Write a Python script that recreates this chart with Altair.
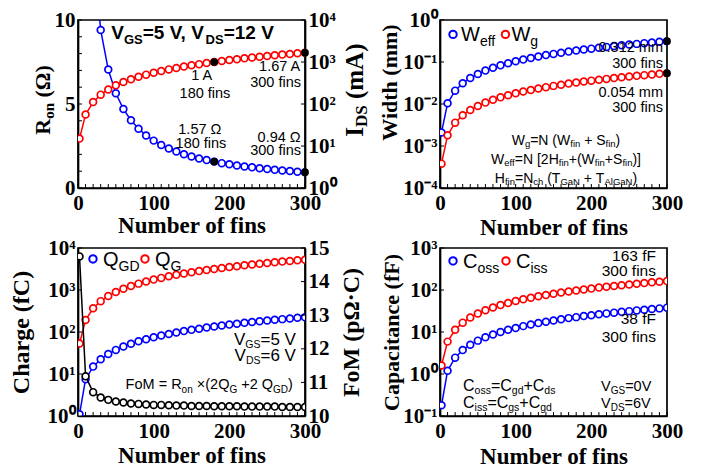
import altair as alt
import pandas as pd

# ---------------- data ----------------
fins = [2, 10, 20, 30, 40, 50, 60, 70, 80, 90, 100, 110, 120, 130, 140, 150,
        160, 170, 180, 190, 200, 210, 220, 230, 240, 250, 260, 270, 280, 290, 300]
ron_ohm = [141, 28.2, 14.1, 9.4, 7.05, 5.64, 4.70, 4.03, 3.53, 3.13, 2.82, 2.56, 2.35, 2.17,
           2.01, 1.88, 1.76, 1.66, 1.57, 1.48, 1.41, 1.34, 1.28, 1.23, 1.18, 1.13, 1.08,
           1.04, 1.01, 0.97, 0.94]
ids_ma = [15, 56, 111, 167, 222, 278, 333, 389, 444, 500, 556, 611, 667, 722, 778, 833,
          889, 944, 1000, 1056, 1111, 1167, 1222, 1278, 1333, 1389, 1444, 1500, 1556, 1611, 1670]
weff_mm = [0.0021, 0.0104, 0.0208, 0.0312, 0.0416, 0.052, 0.0624, 0.0728, 0.0832, 0.0936,
           0.104, 0.114, 0.125, 0.135, 0.146, 0.156, 0.166, 0.177, 0.187, 0.198, 0.208,
           0.218, 0.229, 0.239, 0.250, 0.260, 0.270, 0.281, 0.291, 0.302, 0.312]
wg_mm = [0.00038, 0.0018, 0.0036, 0.0054, 0.0072, 0.0090, 0.0108, 0.0126, 0.0144, 0.0162,
         0.0180, 0.0198, 0.0216, 0.0234, 0.0252, 0.0270, 0.0288, 0.0306, 0.0324, 0.0342,
         0.0360, 0.0378, 0.0396, 0.0414, 0.0432, 0.0450, 0.0468, 0.0486, 0.0504, 0.0522, 0.054]
qgd_fc = [1.1, 7.5, 15, 22.5, 30, 37.5, 45, 52.5, 60, 67.5, 75, 82.5, 90, 97.5, 105, 112.5,
          120, 127.5, 135, 142.5, 150, 157.5, 165, 172.5, 180, 187.5, 195, 202.5, 210, 217.5, 225]
qg_fc = [53, 193, 368, 543, 718, 893, 1068, 1243, 1418, 1593, 1768, 1943, 2118, 2293, 2468,
         2643, 2818, 2993, 3168, 3343, 3518, 3693, 3868, 4043, 4218, 4393, 4568, 4743, 4918,
         5093, 5268]
fom_val = [14.75, 11.18, 10.71, 10.55, 10.48, 10.43, 10.40, 10.37, 10.36, 10.34, 10.33, 10.33,
           10.32, 10.31, 10.31, 10.30, 10.30, 10.30, 10.29, 10.29, 10.29, 10.29, 10.28, 10.28,
           10.28, 10.28, 10.28, 10.27, 10.27, 10.27, 10.27]
coss_ff = [0.18, 1.19, 2.45, 3.71, 4.97, 6.23, 7.49, 8.75, 10.0, 11.3, 12.5, 13.8, 15.1, 16.3,
           17.6, 18.8, 20.1, 21.4, 22.6, 23.9, 25.1, 26.4, 27.7, 28.9, 30.2, 31.4, 32.7, 33.9,
           35.2, 36.5, 38]
ciss_ff = [1.6, 5.9, 11.3, 16.7, 22.1, 27.5, 32.9, 38.3, 43.7, 49.1, 54.5, 59.9, 65.3, 70.7,
           76.1, 81.5, 86.9, 92.3, 97.7, 103, 108, 114, 119, 125, 130, 135, 141, 146, 152, 157, 163]

mark_fins = [180, 300]
ron_marks = [1.57, 0.94]
ids_marks = [1000, 1670]
w_mark_fins = [300, 300]
w_marks = [0.312, 0.054]

x_minor = list(range(0, 301, 10))
ron_ticks = list(range(0, 11))
fom_ticks = [10, 11, 12, 13, 14, 15]

# ---------------- style ----------------
BLUE, RED, BLACK = '#0000ff', '#ff0000', '#000000'
SERIF, SANS = 'Liberation Serif', 'Liberation Sans'
W, H = 227, 168
PXX = W / 300.0
PY1 = H / 10.0
PPD = H / 4.0

XS = alt.Scale(domain=[0, 300], nice=False, zero=False)
YS_RON = alt.Scale(domain=[0, 10], nice=False, zero=False)
YS_IDS = alt.Scale(type='log', domain=[1, 10000], nice=False)
YS_W = alt.Scale(type='log', domain=[1e-4, 1], nice=False)
YS_Q = alt.Scale(type='log', domain=[1, 1e4], nice=False)
YS_FOM = alt.Scale(domain=[10, 15], nice=False, zero=False)
YS_C = alt.Scale(type='log', domain=[0.1, 1000], nice=False)

AW = {' ': 278, '(': 333, ')': 333, '+': 584, ',': 278, '.': 278, '=': 584, '×': 584,
      '[': 278, ']': 278, 'Ω': 768, '·': 278,
      'A': 667, 'C': 722, 'D': 722, 'F': 611, 'G': 778, 'H': 722, 'M': 833, 'N': 722,
      'Q': 778, 'R': 722, 'S': 667, 'T': 611, 'V': 667, 'W': 944,
      'a': 556, 'c': 500, 'd': 556, 'e': 556, 'f': 278, 'g': 556, 'h': 556, 'i': 222,
      'l': 222, 'm': 833, 'n': 556, 'o': 556, 's': 500, 't': 278}
TB = {'R': 722, 'o': 500, 'n': 556, ' ': 250, '(': 333, ')': 333, 'Ω': 768, 'I': 389,
      'D': 722, 'S': 556, 'm': 833, 'A': 722}


def tw(s, size, table=AW):
    return sum(table.get(c, 556) for c in s) * size / 1000.0


def lin_conv(py):
    return lambda y, sh: y - sh / py


def log_conv(y, sh):
    return y * 10 ** (-sh / PPD)


def rich(segs, x0, y0, yconv, align='left', color=BLACK):
    ws = [tw(t, s) for t, s, sh in segs]
    total = sum(ws)
    cum = {'left': 0, 'center': -total / 2, 'right': -total}[align]
    rows = []
    for (t, s, sh), w in zip(segs, ws):
        lead = len(t) - len(t.lstrip(' '))
        off = tw(' ' * lead, s)
        rows.append({'x': x0 + (cum + off) / PXX, 'y': yconv(y0, sh), 'text': t.strip(),
                     'size': s, 'color': color})
        cum += w
    return rows


def rot(segs, x0, y0, along):
    cum = 0
    rows = []
    for t, s, sh in segs:
        lead = len(t) - len(t.lstrip(' '))
        off = tw(' ' * lead, s, TB)
        rows.append({'x': x0 + sh / PXX, 'y': along(y0, cum + off), 'text': t.strip(),
                     'size': s, 'color': BLACK})
        cum += tw(t, s, TB)
    return rows


def log_expr(lo, hi):
    sup = {'-': '\u207b', '0': '\u2070', '1': '\u00b9', '2': '\u00b2', '3': '\u00b3', '4': '\u2074'}
    labs = ["'10" + ''.join(sup[c] for c in str(k)) + "'" for k in range(lo, hi + 1)]
    return '[' + ','.join(labs) + '][round(log(datum.value)/LN10)-(' + str(lo) + ')]'


def x_axis(ty):
    return alt.Axis(values=[0, 100, 200, 300], title='Number of fins', labelFlush=False,
                    labelPadding=4, titleBaseline='alphabetic', titleY=ty, format='d')


# every layer of a panel gets the same axis object so that Vega-Lite merges them
def line(df, col, color, ys, xa, ya):
    return alt.Chart(df).mark_line(color=color, strokeWidth=1.5, clip=True).encode(
        x=alt.X('fins:Q', scale=XS, axis=xa),
        y=alt.Y(col + ':Q', scale=ys, axis=ya))


def pts(df, col, color, ys, xa, ya):
    return alt.Chart(df).mark_point(shape='circle', filled=True, fill='white', stroke=color,
                                    strokeWidth=1.7, size=46, opacity=1, clip=True).encode(
        x=alt.X('fins:Q', scale=XS, axis=xa),
        y=alt.Y(col + ':Q', scale=ys, axis=ya))


def dots(df, col, ys, xa, ya):
    return alt.Chart(df).mark_point(shape='circle', filled=True, color=BLACK, size=60,
                                    opacity=1).encode(
        x=alt.X('fins:Q', scale=XS, axis=xa),
        y=alt.Y(col + ':Q', scale=ys, axis=ya))


def xticks(xa):
    return alt.Chart(pd.DataFrame({'fins': x_minor})).mark_rule(color=BLACK, strokeWidth=1).encode(
        x=alt.X('fins:Q', scale=XS, axis=xa), y=alt.value(H), y2=alt.value(H - 4))


def yticks(vals, ys, side, ya):
    x0, x1 = (0, 4) if side == 'left' else (W, W - 4)
    return alt.Chart(pd.DataFrame({'t': vals})).mark_rule(color=BLACK, strokeWidth=1).encode(
        y=alt.Y('t:Q', scale=ys, axis=ya), x=alt.value(x0), x2=alt.value(x1))


def texts(rows, ys, xa, ya, weight='normal', font=SANS, angle=0):
    return alt.Chart(pd.DataFrame(rows)).mark_text(
        align='left', baseline='alphabetic', font=font, fontWeight=weight, angle=angle).encode(
        x=alt.X('x:Q', scale=XS, axis=xa),
        y=alt.Y('y:Q', scale=ys, axis=ya),
        text='text:N',
        size=alt.Size('size:Q', scale=None, legend=None),
        color=alt.Color('color:N', scale=None, legend=None))


def legend_pts(rows, ys, xa, ya):
    return alt.Chart(pd.DataFrame(rows)).mark_point(
        shape='circle', filled=True, fill='white', strokeWidth=2, size=55, opacity=1).encode(
        x=alt.X('x:Q', scale=XS, axis=xa),
        y=alt.Y('y:Q', scale=ys, axis=ya),
        stroke=alt.Stroke('color:N', scale=None, legend=None))


# ---------------- panel (a): Ron / IDS ----------------
lin1 = lin_conv(PY1)
df1 = pd.DataFrame({'fins': fins, 'ron': ron_ohm, 'ids': ids_ma})
dfm1 = pd.DataFrame({'fins': mark_fins, 'ron': ron_marks, 'ids': ids_marks})

XA1 = x_axis(44)
YA1L = alt.Axis(values=[0, 5, 10], title=None)
YA1R = alt.Axis(values=[1, 10, 100, 1000, 10000], labelExpr=log_expr(0, 4), title=None,
                orient='right')

rows1b = rich([('V', 19, 0), ('GS', 13, 5), ('=5 V, V', 19, 0), ('DS', 13, 5), ('=12 V', 19, 0)],
              44, 8.85, lin1)
rows1 = []
rows1 += rich([('1 A', 14.5, 0)], 163.9, 6.42, lin1, 'center')
rows1 += rich([('180 fins', 14.5, 0)], 167.8, 5.35, lin1, 'center')
rows1 += rich([('1.67 A', 14.5, 0)], 294.7, 6.95, lin1, 'right')
rows1 += rich([('300 fins', 14.5, 0)], 294.7, 6.0, lin1, 'right')
rows1 += rich([('1.57 Ω', 14.5, 0)], 161.2, 3.22, lin1, 'center')
rows1 += rich([('180 fins', 14.5, 0)], 162.5, 2.40, lin1, 'center')
rows1 += rich([('0.94 Ω', 14.5, 0)], 294.7, 2.75, lin1, 'right')
rows1 += rich([('300 fins', 14.5, 0)], 294.7, 1.98, lin1, 'right')

rot_ron = rot([('R', 22, 0), ('on', 15, 4), (' (Ω)', 22, 0)], -37, 3.17,
              lambda y, px: y + px / PY1)
rot_ids = rot([('I', 25, 0), ('DS', 17, 4), (' (mA)', 25, 0)], 376.6, 16.6,
              lambda y, px: y * 10 ** (px / PPD))

left1 = alt.layer(
    line(df1, 'ron', BLUE, YS_RON, XA1, YA1L),
    pts(df1, 'ron', BLUE, YS_RON, XA1, YA1L),
    dots(dfm1, 'ron', YS_RON, XA1, YA1L),
    xticks(XA1),
    yticks(ron_ticks, YS_RON, 'left', YA1L),
    texts(rows1, YS_RON, XA1, YA1L),
    texts(rows1b, YS_RON, XA1, YA1L, weight='bold'),
    texts(rot_ron, YS_RON, XA1, YA1L, weight='bold', font=SERIF, angle=270),
)
right1 = alt.layer(
    line(df1, 'ids', RED, YS_IDS, XA1, YA1R),
    pts(df1, 'ids', RED, YS_IDS, XA1, YA1R),
    dots(dfm1, 'ids', YS_IDS, XA1, YA1R),
    yticks([1, 10, 100, 1000, 10000], YS_IDS, 'right', YA1R),
    texts(rot_ids, YS_IDS, XA1, YA1R, weight='bold', font=SERIF, angle=270),
)
p1 = alt.layer(left1, right1).resolve_scale(y='independent').properties(width=W, height=H)

# ---------------- panel (b): widths ----------------
df2 = pd.DataFrame({'fins': fins, 'weff': weff_mm, 'wg': wg_mm})
dfm2 = pd.DataFrame({'fins': w_mark_fins, 'w': w_marks})
XA2 = x_axis(46)
YA2 = alt.Axis(values=[1e-4, 1e-3, 1e-2, 1e-1, 1], labelExpr=log_expr(-4, 0),
               title='Width (mm)', titleAngle=270, titleBaseline='alphabetic',
               titleX=-44, titleY=62, titleFontSize=22)
leg2 = [{'x': 17.2, 'y': 0.454, 'color': BLUE}, {'x': 86.5, 'y': 0.454, 'color': RED}]
rows2 = []
rows2 += rich([('W', 20, 0), ('eff', 14, 5)], 27.8, 0.31, log_conv)
rows2 += rich([('W', 20, 0), ('g', 14, 5)], 94.4, 0.31, log_conv)
rows2 += rich([('0.312 mm', 14.5, 0)], 294.7, 0.170, log_conv, 'right')
rows2 += rich([('300 fins', 14.5, 0)], 294.7, 0.0711, log_conv, 'right')
rows2 += rich([('0.054 mm', 14.5, 0)], 294.7, 0.01465, log_conv, 'right')
rows2 += rich([('300 fins', 14.5, 0)], 294.7, 0.00647, log_conv, 'right')
rows2 += rich([('W', 14, 0), ('g', 9.5, 2.5), ('=N (W', 14, 0), ('fin', 9.5, 2.5), (' + S', 14, 0),
               ('fin', 9.5, 2.5), (')', 14, 0)], 166.5, 1.07e-3, log_conv, 'center')
rows2 += rich([('W', 14, 0), ('eff', 9.5, 2.5), ('=N [2H', 14, 0), ('fin', 9.5, 2.5),
               ('+(W', 14, 0), ('fin', 9.5, 2.5), ('+S', 14, 0), ('fin', 9.5, 2.5), (')]', 14, 0)],
              166.5, 3.8e-4, log_conv, 'center')
rows2 += rich([('H', 14, 0), ('fin', 9.5, 2.5), ('=N', 14, 0), ('ch', 9.5, 2.5), (' (T', 14, 0),
               ('GaN', 9.5, 2.5), (' + T', 14, 0), ('AlGaN', 9.5, 2.5), (')', 14, 0)],
              166.5, 1.35e-4, log_conv, 'center')

p2 = alt.layer(
    line(df2, 'weff', BLUE, YS_W, XA2, YA2),
    pts(df2, 'weff', BLUE, YS_W, XA2, YA2),
    line(df2, 'wg', RED, YS_W, XA2, YA2),
    pts(df2, 'wg', RED, YS_W, XA2, YA2),
    dots(dfm2, 'w', YS_W, XA2, YA2),
    xticks(XA2),
    yticks([1e-4, 1e-3, 1e-2, 1e-1, 1], YS_W, 'left', YA2),
    legend_pts(leg2, YS_W, XA2, YA2),
    texts(rows2, YS_W, XA2, YA2),
).properties(width=W, height=H)

# ---------------- panel (c): charge / FoM ----------------
df3 = pd.DataFrame({'fins': fins, 'qgd': qgd_fc, 'qg': qg_fc, 'fom': fom_val})
XA3 = x_axis(46)
YA3L = alt.Axis(values=[1, 10, 100, 1000, 10000], labelExpr=log_expr(0, 4),
                title='Charge (fC)', titleAngle=270, titleBaseline='alphabetic',
                titleX=-50, titleFontSize=24)
YA3R = alt.Axis(values=fom_ticks, format='d', title='FoM (pΩ·C)', orient='right',
                titleAngle=270, titleBaseline='alphabetic', titleX=53, titleFontSize=24)
leg3 = [{'x': 19.8, 'y': 5490, 'color': BLUE}, {'x': 88.5, 'y': 5490, 'color': RED}]
rows3 = []
rows3 += rich([('Q', 20, 0), ('GD', 14, 5)], 33.0, 3750, log_conv)
rows3 += rich([('Q', 20, 0), ('G', 14, 5)], 101.8, 3750, log_conv)
rows3 += rich([('V', 17, 0), ('GS', 10.5, 3), ('=5 V', 17, 0)], 288, 49.5, log_conv, 'right')
rows3 += rich([('V', 17, 0), ('DS', 10.5, 3), ('=6 V', 17, 0)], 288, 20.4, log_conv, 'right')
rows3 += rich([('FoM = R', 14.5, 0), ('on', 10, 3.5), (' ×(2Q', 14.5, 0), ('G', 10, 3.5),
               (' +2 Q', 14.5, 0), ('GD', 10, 3.5), (')', 14.5, 0)], 284, 4.36, log_conv, 'right')

left3 = alt.layer(
    line(df3, 'qgd', BLUE, YS_Q, XA3, YA3L),
    pts(df3, 'qgd', BLUE, YS_Q, XA3, YA3L),
    line(df3, 'qg', RED, YS_Q, XA3, YA3L),
    pts(df3, 'qg', RED, YS_Q, XA3, YA3L),
    xticks(XA3),
    yticks([1, 10, 100, 1000, 10000], YS_Q, 'left', YA3L),
    legend_pts(leg3, YS_Q, XA3, YA3L),
    texts(rows3, YS_Q, XA3, YA3L),
)
right3 = alt.layer(
    line(df3, 'fom', BLACK, YS_FOM, XA3, YA3R),
    pts(df3, 'fom', BLACK, YS_FOM, XA3, YA3R),
    yticks(fom_ticks, YS_FOM, 'right', YA3R),
)
p3 = alt.layer(left3, right3).resolve_scale(y='independent').properties(width=W, height=H)

# ---------------- panel (d): capacitance ----------------
df4 = pd.DataFrame({'fins': fins, 'coss': coss_ff, 'ciss': ciss_ff})
XA4 = x_axis(47)
YA4 = alt.Axis(values=[0.1, 1, 10, 100, 1000], labelExpr=log_expr(-1, 3),
               title='Capacitance (fF)', titleAngle=270, titleBaseline='alphabetic',
               titleX=-42, titleFontSize=22)
leg4 = [{'x': 17.2, 'y': 492, 'color': BLUE}, {'x': 87.2, 'y': 492, 'color': RED}]
rows4 = []
rows4 += rich([('C', 20, 0), ('oss', 14, 5)], 30.4, 336, log_conv)
rows4 += rich([('C', 20, 0), ('iss', 14, 5)], 100.4, 336, log_conv)
rows4 += rich([('163 fF', 15.5, 0)], 285.4, 492, log_conv, 'right')
rows4 += rich([('300 fins', 15.5, 0)], 285.4, 217, log_conv, 'right')
rows4 += rich([('38 fF', 15.5, 0)], 285.4, 15.1, log_conv, 'right')
rows4 += rich([('300 fins', 15.5, 0)], 285.4, 5.64, log_conv, 'right')
rows4 += rich([('C', 16, 0), ('oss', 10.5, 3), ('=C', 16, 0), ('gd', 10.5, 3), ('+C', 16, 0),
               ('ds', 10.5, 3)], 30.4, 0.40, log_conv)
rows4 += rich([('C', 16, 0), ('iss', 10.5, 3), ('=C', 16, 0), ('gs', 10.5, 3), ('+C', 16, 0),
               ('gd', 10.5, 3)], 30.4, 0.158, log_conv)
rows4 += rich([('V', 14.5, 0), ('GS', 10, 3), ('=0V', 14.5, 0)], 212.8, 0.40, log_conv)
rows4 += rich([('V', 14.5, 0), ('DS', 10, 3), ('=6V', 14.5, 0)], 212.8, 0.158, log_conv)

p4 = alt.layer(
    line(df4, 'coss', BLUE, YS_C, XA4, YA4),
    pts(df4, 'coss', BLUE, YS_C, XA4, YA4),
    line(df4, 'ciss', RED, YS_C, XA4, YA4),
    pts(df4, 'ciss', RED, YS_C, XA4, YA4),
    xticks(XA4),
    yticks([0.1, 1, 10, 100, 1000], YS_C, 'left', YA4),
    legend_pts(leg4, YS_C, XA4, YA4),
    texts(rows4, YS_C, XA4, YA4),
).properties(width=W, height=H)

chart = alt.concat(
    p1, p2, p3, p4, columns=2, spacing={'row': 60, 'column': 135}, bounds='flush'
).properties(
    padding={'left': 0, 'top': 0, 'right': 5, 'bottom': 5}
).configure_view(
    stroke=BLACK, strokeWidth=1.7
).configure_axis(
    labelFont=SERIF, labelFontSize=21, labelFontWeight='bold', labelColor=BLACK,
    titleFont=SERIF, titleFontSize=23, titleFontWeight='bold', titleColor=BLACK,
    domainColor=BLACK, domainWidth=1.7, ticks=False, grid=False, labelPadding=3,
    labelOverlap=False
)

chart.save("out.html", embed_options={"renderer": "svg", "actions": False})
